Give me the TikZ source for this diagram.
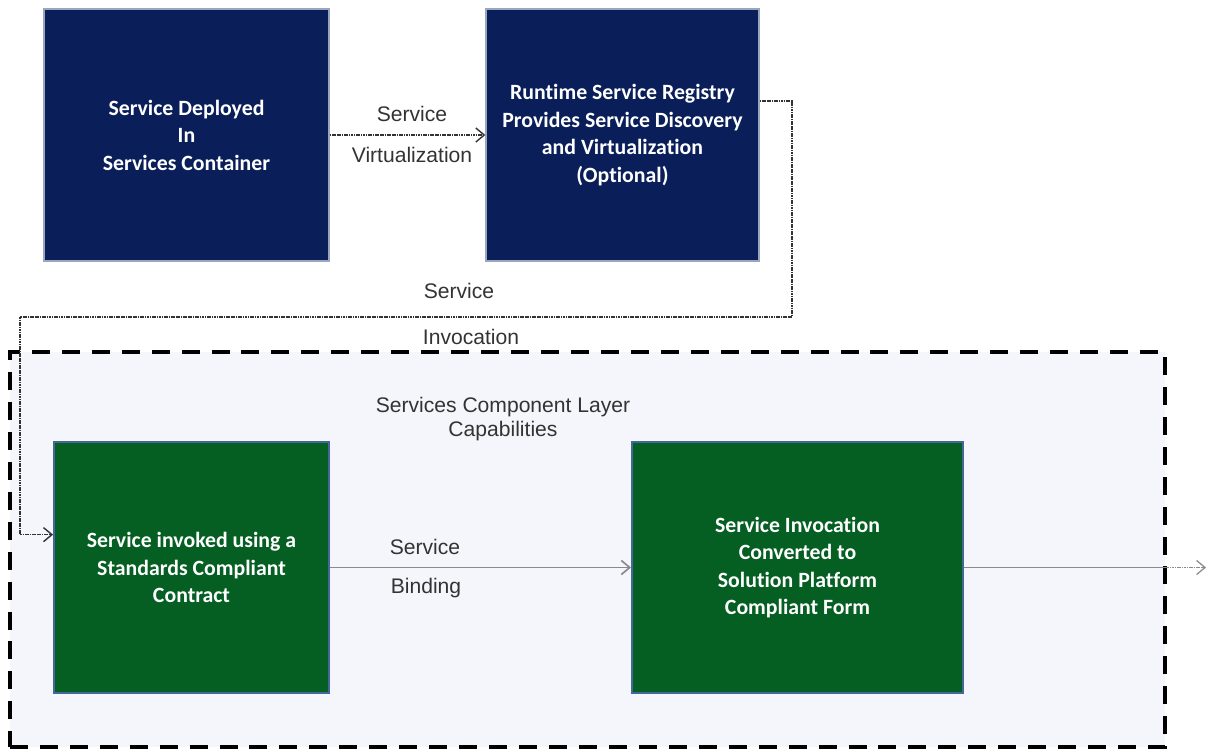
\documentclass[tikz,border=0pt]{standalone}
\usepackage{fontspec}
\setmainfont{Liberation Sans}
\newfontfamily\boxfont[Ligatures={NoCommon}]{Carlito}
\usetikzlibrary{arrows.meta,calc}

\definecolor{navyfill}{HTML}{0A1F5A}
\definecolor{navyline}{HTML}{9AA6BE}
\definecolor{greenfill}{HTML}{055E22}
\definecolor{greenline}{HTML}{44679A}
\definecolor{layerfill}{HTML}{F5F6FC}
\definecolor{linkdark}{HTML}{333333}
\definecolor{linkgray}{HTML}{8A8A8A}

\tikzset{
  x=0.025cm, y=-0.025cm,
  navybox/.style={rectangle, fill=navyfill, draw=navyline, line width=0.9pt,
    text=white, align=center, inner sep=0pt,
    font=\boxfont\bfseries\fontsize{15.5}{19.6}\selectfont},
  greenbox/.style={rectangle, fill=greenfill, draw=greenline, line width=1.3pt,
    text=white, align=center, inner sep=0pt,
    font=\boxfont\bfseries\fontsize{15.5}{19.6}\selectfont},
  layerbox/.style={rectangle, fill=layerfill, draw=black, line width=2.8pt,
    dash pattern=on 12.8pt off 8.5pt, inner sep=0pt},
  lbl/.style={font=\fontsize{15}{17}\selectfont, text=black!80, inner sep=0pt},
  tip/.style={-{Straight Barb[length=6pt,width=10pt]}},
  dottedlink/.style={draw=linkdark, line width=1pt, dash pattern=on 1.2pt off 0.5pt},
  solidlink/.style={draw=linkgray, line width=1.2pt},
}

\begin{document}
\begin{tikzpicture}
\useasboundingbox (0,0) rectangle (1207,751);

% services component layer
\node[layerbox, minimum width=28.875cm, minimum height=9.875cm] (layer) at (587.5,549.5) {};
\node[lbl, align=center] (layertitle) at (503,419) {Services Component Layer\\Capabilities};

% top row
\node[navybox, minimum width=7.125cm, minimum height=6.3cm] (deploy) at (186.5,135)
  {Service Deployed\\In\\Services Container};
\node[navybox, minimum width=6.825cm, minimum height=6.3cm] (registry) at (622.5,135)
  {Runtime Service Registry\\Provides Service Discovery\\and Virtualization\\(Optional)};

% bottom row
\node[greenbox, minimum width=6.875cm, minimum height=6.275cm] (invoke) at (191.5,567.5)
  {Service invoked using a\\Standards Compliant\\Contract};
\node[greenbox, minimum width=8.275cm, minimum height=6.275cm] (convert) at (797.5,567.5)
  {Service Invocation\\Converted to\\Solution Platform\\Compliant Form};

% service virtualization
\draw[dottedlink, tip] (deploy.east) -- (registry.west);
\node[lbl] (virtA) at (412,114) {Service};
\node[lbl] (virtB) at (412,155) {Virtualization};

% service invocation
\coordinate (regout) at ($(registry.north east)!0.365!(registry.south east)$);
\coordinate (invin) at ($(invoke.north west)!0.37!(invoke.south west)$);
\coordinate (bendR) at (792,317);
\coordinate (bendL) at (20,317);
\draw[dottedlink, tip] (regout) -| (bendR) -- (bendL) |- (invin);
\node[lbl] (invA) at (459,291) {Service};
\node[lbl] (invB) at (471,337) {Invocation};

% service binding
\draw[solidlink, tip] (invoke.east) -- (convert.west);
\node[lbl] (bindA) at (425,547) {Service};
\node[lbl] (bindB) at (426,588) {Binding};

% hand-off out of the layer
\coordinate (edgeout) at (1165,567.5);
\coordinate (outend) at (1206,567.5);
\draw[solidlink] (convert.east) -- (edgeout);
\draw[draw=linkgray, line width=0.9pt, dash pattern=on 1.2pt off 0.5pt, tip] (edgeout) -- (outend);
\end{tikzpicture}
\end{document}
